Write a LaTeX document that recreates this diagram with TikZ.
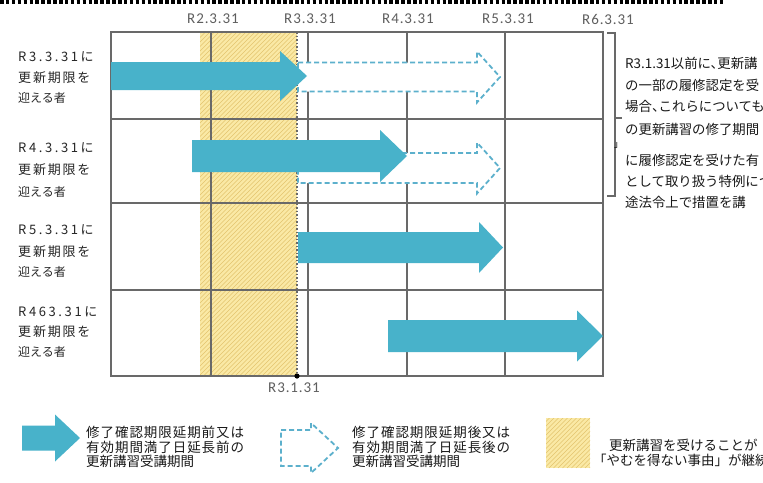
\documentclass[tikz,border=0pt]{standalone}
\usepackage{fontspec}
\setmainfont{Noto Sans CJK JP}
\newfontfamily\jp{Noto Sans CJK JP}
\newfontfamily\jpls[LetterSpace=20]{Noto Sans CJK JP}
\newfontfamily\jplm[LetterSpace=14]{Noto Sans CJK JP}
\newfontfamily\jplg[LetterSpace=7]{Noto Sans CJK JP}
\newfontfamily\labfont[LetterSpace=6]{Carlito}
\newcommand\hcomma{、\kern-0.5em}
\definecolor{arrowblue}{RGB}{72,178,202}
\definecolor{dashblue}{RGB}{92,176,204}
\definecolor{gridgray}{RGB}{105,105,105}
\definecolor{bandyellow}{RGB}{250,233,165}
\definecolor{hatchyellow}{RGB}{226,196,110}
\definecolor{labgray}{RGB}{95,95,95}
\newcommand\blockarrow[7]{%
  \path[#1] (#2,{#4-#5}) -- ({#3-#7},{#4-#5}) -- ({#3-#7},{#4-#6}) -- (#3,#4)
    -- ({#3-#7},{#4+#6}) -- ({#3-#7},{#4+#5}) -- (#2,{#4+#5}) -- cycle;}
\newcommand\hatchbox[5]{%
  \fill[bandyellow] (#1,#2) rectangle (#3,#4);
  \begin{scope}
    \clip (#1,#2) rectangle (#3,#4);
    \foreach \k in {#5} \draw[hatchyellow, line width=0.6pt] ({#1+\k},#4) -- ++(420,-420);
  \end{scope}}
\tikzset{
  gridline/.style={draw=gridgray, line width=1.3pt},
  solidarrow/.style={fill=arrowblue},
  dasharrow/.style={draw=dashblue, fill=white, line width=1.8pt, dash pattern=on 5pt off 3pt, line join=miter},
  rowlabel/.style={anchor=west, inner sep=0pt, text=black!85, font=\jpls\fontsize{13}{13}\selectfont},
  rowlabelm/.style={anchor=west, inner sep=0pt, text=black!85, font=\jplm\fontsize{13}{13}\selectfont},
  rowlabelb/.style={anchor=west, inner sep=0pt, text=black!85, font=\jp\fontsize{12}{13}\selectfont},
  toplab/.style={inner sep=0pt, text=labgray, font=\labfont\fontsize{15}{15}\selectfont},
  rtext/.style={anchor=west, inner sep=0pt, text=black!90, font=\jp\fontsize{13.4}{14}\selectfont},
  legtext/.style={anchor=west, inner sep=0pt, text=black!90, font=\jplg\fontsize{13.5}{14}\selectfont},
  legtextb/.style={anchor=west, inner sep=0pt, text=black!90, font=\jp\fontsize{13.5}{14}\selectfont},
}
\begin{document}
\begin{tikzpicture}[x=1pt,y=-1pt]
\useasboundingbox (0,0) rectangle (763,482);
\fill[white] (0,0) rectangle (763,482);
\begin{scope}
\clip (0,0) rectangle (763,482);
% top dotted rule
\draw[black, line width=3.5pt, dash pattern=on 3.5pt off 2.4pt] (0,2) -- (723,2);
% yellow band
\hatchbox{200}{32}{297}{376}{-370,-365.5,...,100}
% grid
\draw[gridline] (111,32) rectangle (603,376);
\foreach \x in {211,308,407,505} \draw[gridline] (\x,32) -- (\x,376);
\foreach \y in {119,203,290} \draw[gridline] (111,\y) -- (603,\y);
\draw[gridgray, line width=1.2pt, dash pattern=on 1.5pt off 2pt] (297,32) -- (297,376);
% dashed arrows
\blockarrow{dasharrow}{298}{500}{77}{14.5}{25.5}{23}
\blockarrow{dasharrow}{298}{500}{168}{15}{25.5}{23}
% solid arrows
\blockarrow{solidarrow}{111}{307}{76}{14}{25}{27}
\blockarrow{solidarrow}{192}{407}{156}{16}{26}{27}
\blockarrow{solidarrow}{298}{503}{247.5}{15.5}{25.5}{24}
\blockarrow{solidarrow}{388}{603}{336}{16}{25.5}{26}
\fill[black] (297,376) circle (2.6);
% top labels
\node[toplab] (t2) at (213,19) {R2.3.31};
\node[toplab] (t3) at (310,19) {R3.3.31};
\node[toplab] (t4) at (408,19) {R4.3.31};
\node[toplab] (t5) at (508,19) {R5.3.31};
\node[toplab] (t6) at (608,19) {R6.3.31};
\node[toplab] (tb) at (294,388) {R3.1.31};
% row labels
\node[rowlabel] (a1) at (18,57) {R3.3.31に};
\node[rowlabelm] (a2) at (18,78) {更新期限を};
\node[rowlabelb] (a3) at (18,98) {迎える者};
\node[rowlabel] (b1) at (18,148) {R4.3.31に};
\node[rowlabelm] (b2) at (18,170) {更新期限を};
\node[rowlabelb] (b3) at (18,192) {迎える者};
\node[rowlabel] (c1) at (18,230) {R5.3.31に};
\node[rowlabelm] (c2) at (18,252) {更新期限を};
\node[rowlabelb] (c3) at (18,272) {迎える者};
\node[rowlabel] (d1) at (18,312) {R463.31に};
\node[rowlabelm] (d2) at (18,332) {更新期限を};
\node[rowlabelb] (d3) at (18,352) {迎える者};
% bracket
\draw[gridgray, line width=1.3pt] (607,33) -- (615,33) -- (615,196) -- (607,196);
\draw[gridgray, line width=1.3pt] (615,118) -- (622,118);
% right text
\node[rtext] (r1) at (625,63) {R3.1.31以前に\hcomma 更新講};
\node[rtext] (r2) at (625,85) {の一部の履修認定を受};
\node[rtext] (r3) at (625,106) {場合\hcomma これらについても};
\node[rtext] (r4) at (625,129) {の更新講習の修了期間};
\node[anchor=west, inner sep=0pt, font=\jp\fontsize{9}{9}\selectfont] (r5) at (614,145) {」};
\node[rtext] (r6) at (625,160) {に履修認定を受けた有};
\node[rtext] (r7) at (625,181) {として取り扱う特例につ};
\node[rtext] (r8) at (625,202) {途法令上で措置を講};
% legend
\blockarrow{solidarrow}{22}{80}{438}{12.5}{23.5}{25}
\node[legtext] (l1) at (86,432) {修了確認期限延期前又は};
\node[legtext] (l2) at (86,447) {有効期間満了日延長前の};
\node[legtextb] (l3) at (86,461) {更新講習受講期間};
\blockarrow{dasharrow}{281}{338}{448}{18}{25}{27}
\node[legtext] (m1) at (352,432) {修了確認期限延期後又は};
\node[legtext] (m2) at (352,447) {有効期間満了日延長後の};
\node[legtextb] (m3) at (352,461) {更新講習受講期間};
\hatchbox{546}{418}{590}{468}{-60,-55.5,...,50}
\node[legtextb] (n1) at (609,445) {更新講習を受けることが};
\node[legtextb] (n2) at (593,460) {「やむを得ない事由」が継続};
\end{scope}
\end{tikzpicture}
\end{document}
